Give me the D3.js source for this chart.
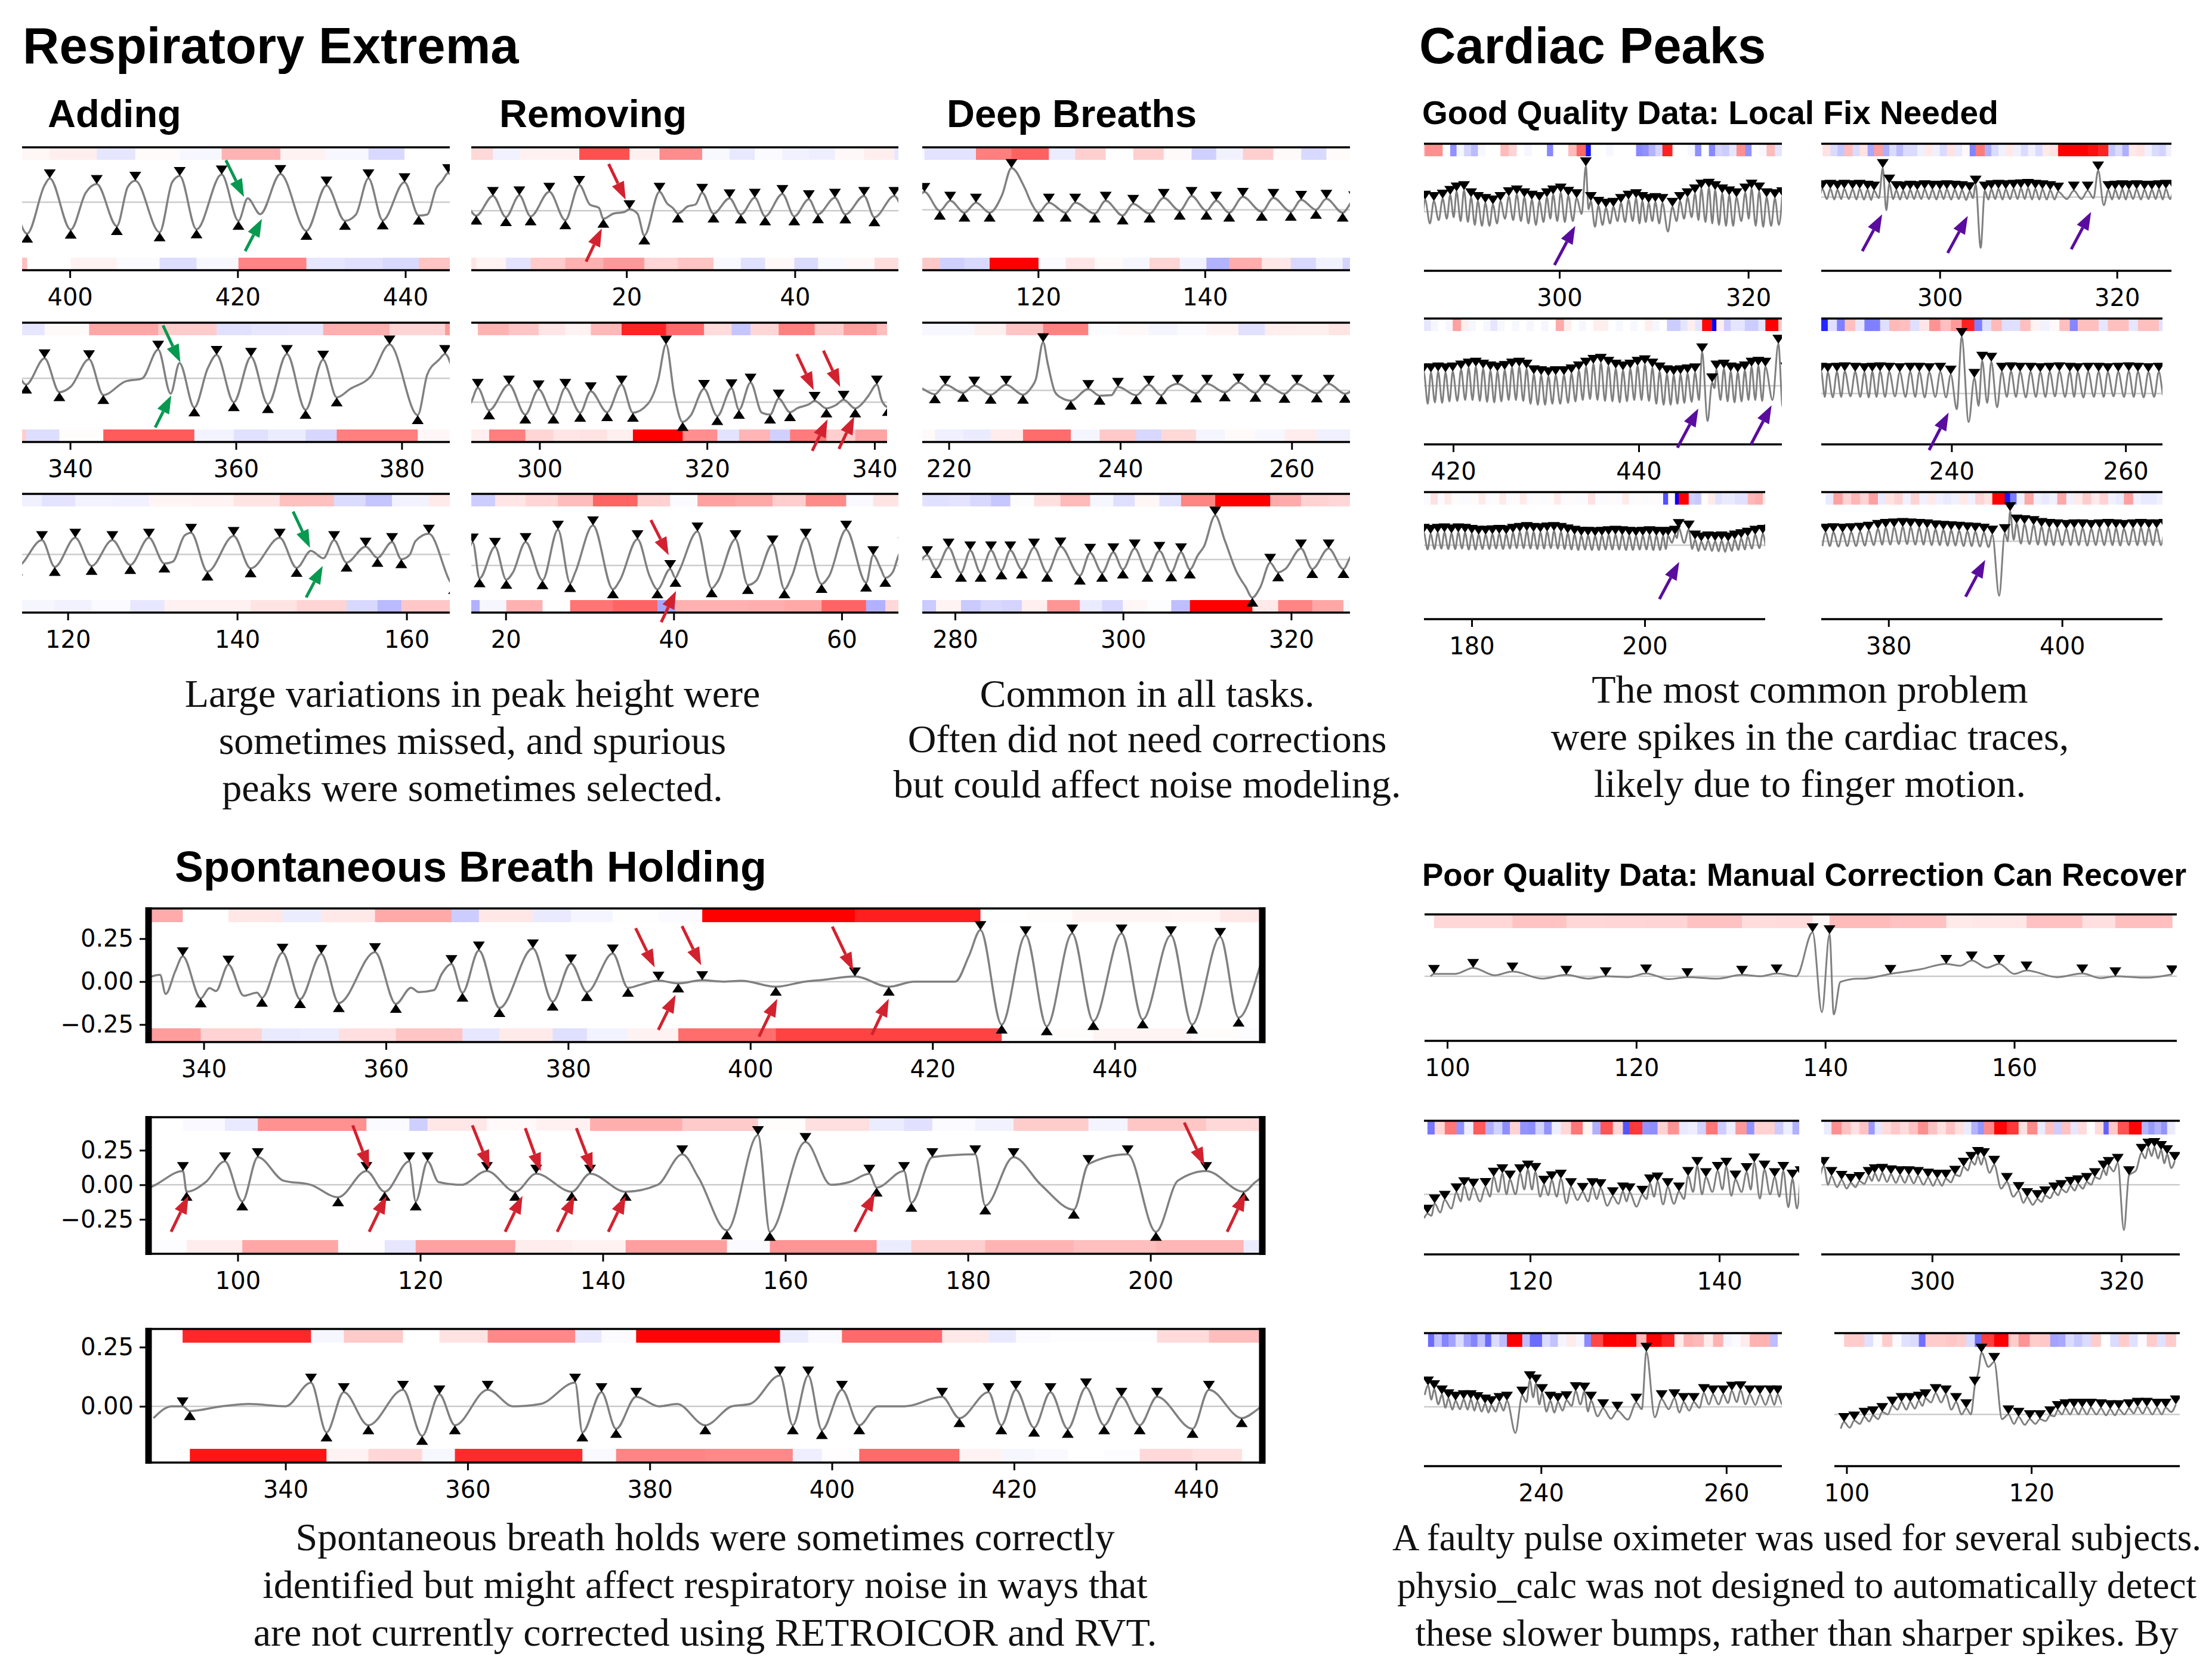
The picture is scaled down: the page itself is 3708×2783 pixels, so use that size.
<!DOCTYPE html>
<html>
<head>
<meta charset="utf-8">
<script src="https://cdn.jsdelivr.net/npm/d3@7"></script>
<style>
  body { margin: 0; background: #fff; }
</style>
</head>
<body>
<script>
// ---------- data: [time (s), signal] ----------
// Respiratory extrema: peaks (marked v), troughs (marked ^), unmarked knots of the trace
const addPk1 = [[392.2,0.45],[397.6,0.50],[403.2,0.38],[407.8,0.45],[413.1,0.55],[418.1,0.58],[425.1,0.59],[430.6,0.35],[435.6,0.50],[439.9,0.42],[445.1,0.61],[450.3,0.5]];
const addTr1 = [[388.2,-0.6],[394.9,-0.66],[400.1,-0.575],[405.6,-0.50],[410.7,-0.63],[415.1,-0.57],[420.1,-0.39],[428.2,-0.60],[432.8,-0.39],[437.3,-0.38],[441.6,-0.28],[448.2,-0.5]];
const addKn1 = [[397.0,0.36],[401.9,0.20],[406.9,0.32],[412.2,0.42],[421.2,0.08],[422.7,-0.25],[434.1,-0.26],[442.6,-0.26],[443.7,0.30],[444.4,0.45]];
const addAr1 = [[418.6,0.88,420.76,0.11],[420.9,-1.025,422.9,-0.35]];

const addPk2 = [[332.6,0.4],[336.91,0.42],[342.28,0.40],[350.62,0.60],[357.67,0.49],[361.82,0.45],[366.15,0.51],[370.52,0.39],[378.53,0.71],[385.23,0.51],[394,0.5]];
const addTr2 = [[327.7,-0.3],[334.69,-0.13],[338.70,-0.29],[344.0,-0.35],[354.98,-0.61],[359.74,-0.50],[363.86,-0.54],[368.4,-0.66],[372.16,-0.40],[381.93,-0.77],[387.4,-0.4]];
const addKn2 = [[340.1,-0.17],[346.6,-0.07],[348.7,0.0],[352.12,-0.32],[353.19,0.32],[356.6,0.21],[373.8,-0.22],[376.3,0.05],[383.1,0.09],[384.5,0.39]];
const addAr2 = [[351.2,1.11,353.3,0.335],[350.26,-1.03,352.2,-0.36]];

const addPk3 = [[112.65,0.3],[116.95,0.30],[120.88,0.35],[125.26,0.30],[129.58,0.35],[134.56,0.455],[139.58,0.39],[145.02,0.35],[151.44,0.30],[155.16,0.165],[158.28,0.26],[162.63,0.435],[167.9,0.4]];
const addTr3 = [[114.0,-0.25],[118.46,-0.26],[122.81,-0.24],[127.37,-0.22],[131.40,-0.19],[136.49,-0.36],[141.58,-0.29],[147.02,-0.28],[152.91,-0.17],[156.56,-0.07],[159.37,-0.10],[165.6,-0.64]];
const addKn3 = [[132.4,-0.15],[133.8,0.40],[148.70,0.075],[150.17,-0.08],[160.35,-0.01],[161.05,0.28]];
const addAr3 = [[146.6,0.90,148.6,0.14],[148.14,-0.90,150.1,-0.24]];

const remPk1 = [[0.2,0.3],[4.13,0.31],[7.27,0.32],[10.83,0.395],[14.39,0.54],[20.35,0.03],[23.92,0.395],[28.99,0.375],[32.24,0.26],[35.24,0.27],[38.52,0.35],[41.66,0.24],[44.76,0.27],[48.22,0.31],[51.82,0.31],[54.8,0.3]];
const remTr1 = [[-1.6,-0.1],[2.15,-0.105],[5.68,-0.135],[8.61,-0.12],[12.73,-0.20],[17.25,-0.17],[22.12,-0.52],[26.10,-0.06],[30.33,-0.06],[33.58,-0.08],[36.47,-0.12],[39.93,-0.12],[42.75,-0.075],[46.0,-0.08],[49.45,-0.14],[53.3,-0.1]];
const remKn1 = [[15.66,0.125],[16.72,0.06],[18.48,-0.06],[19.72,-0.03],[21.3,-0.06],[24.83,0.15],[25.54,0.05],[27.3,0.09],[28.2,0.13]];
const remAr1 = [[17.88,0.98,19.9,0.23],[15.2,-1.07,17.07,-0.375]];

const remPk2 = [[289.7,0.3],[292.63,0.30],[296.35,0.37],[299.89,0.27],[303.08,0.30],[306.12,0.23],[309.8,0.37],[315.11,1.21],[319.64,0.28],[322.93,0.29],[325.2,0.41],[328.56,0.076],[332.85,0.03],[336.31,0.05],[340.28,0.37],[343.9,0.3]];
const remTr2 = [[290.9,-0.2],[293.98,-0.17],[298.30,-0.26],[301.66,-0.26],[304.85,-0.22],[308.07,-0.21],[311.15,-0.22],[317.09,-0.415],[321.23,-0.29],[323.82,-0.16],[327.53,-0.26],[329.91,-0.21],[334.26,-0.13],[337.7,-0.13],[341.6,-0.1]];
const remKn2 = [[291.85,0.005],[312.92,-0.04],[314.15,0.455],[316.1,0.14],[318.05,-0.28],[326.54,-0.22],[330.79,-0.125],[332.21,-0.04],[335.4,-0.06],[338.58,-0.02],[339.29,0.14],[340.88,0.03]];
const remAr2 = [[330.72,1.01,332.74,0.255],[333.9,1.08,335.9,0.32],[332.56,-1.02,334.4,-0.36],[335.75,-0.98,337.59,-0.30]];

const remPk3 = [[13.4,0.4],[16.08,0.48],[18.73,0.39],[22.37,0.49],[26.22,0.75],[30.39,0.84],[35.69,0.55],[39.58,-0.075],[42.83,0.71],[47.35,0.55],[51.77,0.44],[55.72,0.58],[60.53,0.75],[63.75,0.215],[67.4,0.4]];
const remTr3 = [[14.6,-0.3],[16.89,-0.27],[20.07,-0.30],[24.38,-0.31],[27.67,-0.37],[32.76,-0.50],[38.06,-0.50],[40.21,-0.26],[44.52,-0.48],[48.83,-0.41],[53.18,-0.50],[57.6,-0.39],[62.9,-0.36],[65.19,-0.26],[69,-0.3]];
const remKn3 = [[20.85,-0.15],[28.27,-0.15],[33.57,-0.32],[37.1,-0.21],[40.64,-0.12],[45.23,-0.34],[49.82,-0.32],[54.06,-0.23],[58.48,-0.23],[64.66,-0.075],[66.08,-0.14],[66.78,0.215]];
const remAr3 = [[37.28,0.95,39.40,0.215],[38.51,-1.19,40.28,-0.535]];

const deepPk1 = [[103.1,0.3],[106.36,0.375],[109.45,0.19],[112.54,0.15],[116.8,0.875],[121.28,0.15],[124.44,0.15],[128.1,0.19],[131.4,0.125],[135.06,0.25],[138.4,0.29],[141.35,0.19],[144.55,0.27],[148.21,0.25],[151.55,0.21],[154.57,0.23],[157.9,0.2]];
const deepTr1 = [[104.5,-0.05],[108.21,-0.02],[111.16,-0.06],[114.18,-0.06],[120.04,-0.06],[123.3,-0.06],[126.79,-0.08],[130.13,-0.12],[133.36,-0.08],[136.98,-0.02],[140.18,-0.02],[142.91,-0.06],[146.82,-0.04],[150.3,-0.04],[153.32,0.0],[156.52,-0.06],[159.5,-0.05]];
const deepKn1 = [[115.67,0.31],[118.33,0.48],[119.22,0.13]];

const deepPk2 = [[216.2,0.1],[219.58,0.12],[222.97,0.10],[226.68,0.12],[231.0,1.01],[236.27,0.03],[239.73,0.075],[243.33,0.12],[246.69,0.14],[250.12,0.14],[253.79,0.165],[256.87,0.14],[260.61,0.14],[264.32,0.14],[268.2,0.12]];
const deepTr2 = [[214.8,-0.05],[218.37,-0.08],[221.66,-0.05],[224.88,-0.09],[228.65,-0.09],[234.23,-0.215],[237.59,-0.11],[241.85,-0.10],[244.79,-0.10],[248.84,-0.06],[252.2,-0.04],[255.77,-0.05],[259.16,-0.07],[262.93,-0.06],[266.22,-0.07],[269.5,-0.06]];
const deepKn2 = [[216.98,0.03],[229.62,0.06],[230.14,0.23],[231.53,0.57],[232.39,-0.035],[233.09,-0.15],[238.97,-0.1],[245.55,0.05]];

const deepPk3 = [[274.1,0.1],[276.68,0.09],[279.23,0.25],[281.81,0.19],[284.28,0.19],[286.58,0.19],[289.4,0.25],[292.55,0.27],[296.08,0.14],[298.84,0.15],[301.38,0.23],[304.32,0.18],[306.9,0.15],[310.96,0.92],[317.5,-0.07],[321.17,0.23],[324.46,0.23],[327.7,0.2]];
const deepTr3 = [[275.4,-0.2],[277.74,-0.2],[280.71,-0.28],[283.04,-0.28],[285.52,-0.23],[287.95,-0.21],[290.96,-0.28],[294.85,-0.34],[297.5,-0.28],[299.97,-0.21],[302.9,-0.28],[305.73,-0.27],[307.95,-0.21],[315.38,-0.80],[318.45,-0.27],[322.51,-0.2],[326.22,-0.2],[329,-0.2]];
const deepKn3 = [[276.22,0.04],[308.9,0.09],[309.62,0.27],[312.1,0.40],[313.5,-0.26],[314.6,-0.58],[316.33,-0.58],[319.3,-0.2],[327.04,0.05]];

// Spontaneous breath holding
const holdPk1 = [[329.4,0.1],[337.7,0.147],[342.71,0.099],[348.65,0.168],[352.91,0.161],[358.8,0.172],[367.19,0.102],[370.2,0.181],[376.13,0.193],[380.31,0.106],[384.9,0.164],[389.92,0.006],[394.72,0.008],[411.48,0.03],[425.26,0.30],[430.22,0.27],[435.33,0.28],[440.75,0.28],[446.17,0.27],[451.58,0.26],[457.5,0.25]];
const holdTr1 = [[330.8,-0.05],[339.67,-0.098],[346.39,-0.094],[350.57,-0.102],[354.83,-0.125],[361.09,-0.13],[368.4,-0.065],[372.46,-0.154],[378.3,-0.117],[382.06,-0.061],[386.57,-0.036],[392.09,-0.011],[402.8,-0.03],[415.2,-0.03],[427.59,-0.25],[432.54,-0.26],[437.65,-0.23],[443.07,-0.22],[448.49,-0.25],[453.6,-0.21],[458.5,-0.2]];
const holdKn1 = [[335.2,0.04],[335.82,-0.072],[336.87,0.06],[340.63,-0.038],[341.34,-0.055],[344.39,-0.082],[345.85,-0.065],[362.76,-0.036],[363.6,-0.061],[365.27,-0.05],[366.11,0.043],[387.83,-0.02],[397.0,0.0],[399,0.005],[406,0.0],[408,0.01],[418,0.0],[422.5,0.0],[424.0,0.15]];
const holdAr1 = [[387.41,0.311,389.5,0.083],[392.5,0.323,394.6,0.095],[409.0,0.32,411.3,0.065],[389.9,-0.281,391.8,-0.078],[400.95,-0.32,402.96,-0.10],[413.34,-0.31,415.2,-0.10]];

const holdPk2 = [[94.0,0.1],[98.6,0.17],[102.2,0.20],[114.1,0.10],[118.8,0.17],[120.8,0.17],[127.3,0.10],[132.7,0.08],[138.6,0.08],[148.7,0.22],[157.0,0.36],[162.2,0.31],[169.2,0.08],[173.0,0.10],[176.1,0.20],[180.8,0.22],[185.0,0.20],[193.2,0.15],[197.5,0.22],[206.1,0.10],[213.5,0.1]];
const holdTr2 = [[89.5,-0.05],[94.4,-0.05],[100.5,-0.12],[111.0,-0.09],[116.1,-0.05],[119.5,-0.12],[130.4,-0.05],[136.6,-0.05],[142.5,-0.05],[153.6,-0.33],[158.3,-0.34],[170.0,-0.02],[173.8,-0.13],[181.9,-0.15],[191.6,-0.18],[200.6,-0.34],[210.2,-0.05],[214,-0.05]];
const holdKn2 = [[91,0.0],[96.5,0.02],[105,0.03],[108,0.0],[122,0.02],[124.5,0.0],[146,0.0],[150.5,0.05],[165,0.0],[167,0.02],[188,0.0],[203,0.03],[211.5,0.02]];
const holdAr2 = [[112.6,0.43,114.4,0.12],[125.7,0.43,127.6,0.12],[131.5,0.41,133.2,0.10],[137.1,0.41,138.9,0.10],[203.7,0.45,205.9,0.14],
  [92.7,-0.34,94.6,-0.08],[114.4,-0.34,116.3,-0.08],[129.3,-0.34,131.2,-0.08],[135.0,-0.34,136.9,-0.08],[140.6,-0.34,142.5,-0.08],[167.6,-0.34,169.8,-0.06],[208.4,-0.34,210.4,-0.06]];

const holdPk3 = [[328.7,0.0],[342.8,0.10],[346.4,0.06],[352.9,0.07],[356.9,0.05],[362.2,0.07],[371.8,0.10],[374.7,0.06],[378.5,0.04],[394.3,0.13],[397.4,0.13],[401.1,0.07],[412.1,0.04],[417.2,0.06],[420.2,0.07],[424.0,0.06],[427.9,0.08],[431.8,0.04],[435.7,0.04],[441.4,0.07],[448.5,0.05]];
const holdTr3 = [[329.5,-0.02],[344.5,-0.11],[349.1,-0.08],[355.0,-0.125],[358.6,-0.08],[372.6,-0.11],[376.3,-0.095],[386.1,-0.08],[395.7,-0.08],[398.9,-0.10],[403.0,-0.08],[414.0,-0.05],[418.6,-0.08],[422.2,-0.09],[425.9,-0.095],[429.9,-0.08],[433.8,-0.08],[439.6,-0.095],[445.0,-0.05]];
const holdKn3 = [[325.5,-0.05],[327.5,0.0],[333,0.0],[336,0.01],[340,0.0],[365,0.0],[368,0.01],[381,0.0],[383,0.01],[389,0.0],[391,0.01],[405,0.0],[408,0.0],[446.5,-0.02]];

// Cardiac beats: [peak time, peak value, preceding trough value]
const goodA1 = [[284.9,.30,-.20],[285.78,.25,-.22],[286.71,.22,-.25],[287.64,.27,-.18],[288.44,.35,-.15],[289.11,.42,-.12],[289.9,.45,-.20],[290.65,.30,-.22],[291.37,.22,-.28],[292.16,.18,-.30],[292.96,.15,-.30],[293.76,.22,-.25],[294.64,.32,-.15],[295.49,.36,-.18],[296.29,.30,-.20],[297.08,.25,-.25],[297.88,.22,-.28],[298.68,.30,-.22],[299.34,.36,-.15],[300.14,.40,-.20],[300.94,.33,-.22],[301.82,.28,-.20],[302.8,.95,-.05],[303.33,.22,.05],[304.13,.12,-.32],[304.93,.08,-.28],[305.72,.10,-.25],[306.52,.18,-.20],[307.32,.25,-.22],[308.12,.28,-.20],[308.78,.22,-.25],[309.45,.18,-.22],[310.16,.20,-.20],[310.91,.18,-.25],[311.97,.10,-.42],[312.77,.22,-.20],[313.57,.30,-.15],[314.36,.38,-.12],[315.03,.48,-.18],[315.83,.50,-.22],[316.49,.45,-.25],[317.24,.38,-.28],[317.98,.34,-.30],[318.75,.30,-.30],[319.68,.40,-.20],[320.35,.48,-.15],[321.15,.42,-.30],[321.94,.30,-.32],[322.82,.28,-.30],[323.59,.32,-.28]];
const goodA2 = [[416.84,.28,-.35],[417.6,.28,-.38],[418.38,.30,-.35],[419.17,.28,-.36],[419.95,.30,-.33],[420.85,.34,-.32],[421.66,.38,-.30],[422.44,.40,-.30],[423.23,.36,-.32],[424.01,.32,-.34],[424.77,.30,-.35],[425.55,.33,-.33],[426.34,.38,-.30],[427.12,.40,-.30],[427.91,.36,-.32],[428.69,.24,-.38],[429.48,.22,-.40],[430.26,.20,-.40],[431.05,.22,-.38],[431.94,.22,-.38],[432.75,.26,-.36],[433.54,.32,-.33],[434.32,.40,-.30],[435.11,.46,-.28],[435.92,.48,-.30],[436.73,.42,-.32],[437.52,.36,-.33],[438.3,.32,-.35],[439.09,.36,-.33],[439.87,.42,-.30],[440.66,.45,-.30],[441.47,.38,-.32],[442.25,.30,-.38],[443.04,.24,-.40],[443.77,.22,-.40],[444.5,.24,-.38],[445.26,.26,-.36],[446.07,.28,-.34],[446.83,.70,-.30],[447.91,.07,-.74],[448.37,.34,-.05],[449.18,.36,-.30],[449.91,.30,-.33],[450.67,.28,-.35],[451.43,.32,-.33],[452.16,.40,-.30],[452.89,.42,-.30],[453.65,.40,-.32],[455.05,.88,-.30],[455.9,.30,-.45]];
const goodA3 = [[174.47,.26,-.08],[175.25,.24,-.09],[176.07,.26,-.08],[176.85,.27,-.07],[177.66,.25,-.08],[178.45,.27,-.08],[179.23,.26,-.07],[180.01,.24,-.09],[180.8,.22,-.09],[181.61,.22,-.08],[182.39,.23,-.08],[183.18,.24,-.07],[183.99,.23,-.08],[184.77,.26,-.07],[185.56,.28,-.06],[186.37,.30,-.06],[187.15,.28,-.07],[187.94,.27,-.08],[188.72,.29,-.07],[189.51,.30,-.06],[190.32,.28,-.07],[191.1,.25,-.08],[191.89,.22,-.09],[192.67,.20,-.10],[193.45,.20,-.09],[194.27,.19,-.10],[195.05,.20,-.10],[195.83,.21,-.09],[196.62,.22,-.09],[197.4,.21,-.09],[198.21,.20,-.10],[198.99,.19,-.10],[199.78,.20,-.09],[200.56,.21,-.09],[201.35,.20,-.10],[202.13,.19,-.10],[202.71,.20,-.08],[203.5,.22,.05],[203.93,.36,.15],[205.09,.33,.05],[205.82,.12,-.08],[206.54,.08,-.12],[207.33,.10,-.10],[208.14,.09,-.12],[208.89,.10,-.13],[209.65,.08,-.14],[210.41,.12,-.12],[211.16,.15,-.10],[211.91,.18,-.09],[212.78,.22,-.07],[213.66,.24,-.06],[214.47,.25,-.06]];
const goodB1 = [[286.76,.17,-.05],[287.65,.18,-.04],[288.45,.16,-.05],[289.22,.18,-.04],[290.16,.17,-.04],[290.96,.18,-.05],[291.85,.16,-.05],[292.58,.14,-.06],[293.56,.62,-.02],[294.3,.29,-.28],[295.1,.15,-.04],[295.86,.14,-.05],[296.66,.16,-.04],[297.46,.15,-.04],[298.29,.17,-.04],[299.17,.16,-.04],[300.0,.16,-.05],[300.8,.17,-.04],[301.69,.16,-.05],[302.51,.15,-.04],[303.37,.13,-.06],[304.05,.27,-.02],[305.08,.14,-1.08],[305.82,.17,-.05],[306.62,.18,-.04],[307.45,.17,-.05],[308.33,.18,-.04],[309.16,.19,-.04],[309.96,.20,-.04],[310.79,.18,-.05],[311.59,.17,-.05],[312.47,.15,-.05],[313.36,.12,-.05],[315.13,.14,-.04],[316.7,.14,-.04],[317.88,.57,-.02],[319.03,.15,-.17],[319.8,.16,-.05],[320.6,.17,-.04],[321.34,.16,-.05],[322.22,.17,-.04],[323.11,.16,-.05],[323.94,.16,-.04],[324.74,.17,-.04],[325.53,.18,-.05],[326.36,.17,-.04]];
const goodB2 = [[225.02,.46,-.07],[225.78,.45,-.07],[226.83,.46,-.08],[227.73,.47,-.07],[228.93,.46,-.06],[229.99,.45,-.07],[230.89,.46,-.08],[231.79,.47,-.07],[232.84,.46,-.07],[234.05,.45,-.06],[235.25,.46,-.07],[236.3,.46,-.07],[237.44,.45,-.08],[238.71,.46,-.07],[239.91,.40,-.08],[241.17,1.19,-.33],[242.62,.33,-.60],[243.52,.69,-.26],[244.57,.67,-.20],[245.78,.46,-.29],[246.83,.47,-.07],[247.88,.46,-.07],[249.08,.46,-.08],[250.2,.45,-.07],[251.28,.46,-.07],[252.39,.47,-.06],[253.59,.46,-.07],[254.5,.45,-.07],[255.7,.46,-.08],[256.9,.46,-.07],[257.96,.45,-.07],[259.16,.46,-.06],[260.36,.47,-.07],[261.42,.46,-.07],[262.62,.45,-.08],[263.82,.46,-.07],[264.87,.46,-.07]];
const goodB3 = [[372.75,.18,-.10],[373.65,.19,-.10],[374.71,.18,-.11],[375.7,.19,-.10],[376.73,.20,-.10],[377.72,.22,-.09],[378.78,.26,-.08],[379.68,.28,-.07],[380.65,.29,-.07],[381.64,.30,-.06],[382.55,.29,-.06],[383.54,.28,-.07],[384.45,.27,-.07],[385.41,.25,-.08],[386.32,.24,-.08],[387.22,.23,-.09],[388.13,.22,-.09],[389.09,.21,-.10],[390.0,.20,-.10],[390.99,.18,-.11],[391.96,.14,-.12],[393.4,.17,-1.14],[394.01,.63,.0],[394.76,.37,.03],[395.67,.36,-.05],[396.72,.34,-.06],[397.63,.30,-.07],[398.53,.28,-.08],[399.44,.27,-.08],[400.49,.26,-.08],[401.4,.27,-.08],[402.36,.27,-.08],[403.36,.26,-.09],[404.32,.27,-.08],[405.31,.28,-.08],[406.22,.27,-.08],[407.12,.26,-.09],[408.18,.27,-.08],[409.09,.28,-.08],[409.99,.27,-.08],[410.89,.27,-.08],[411.8,.28,-.08]];

const poorA = [[98.6,0.05,0.0],[102.74,0.175,0.05],[106.9,0.10,0.02],[112.6,0.03,-0.05],[116.77,0.0,-0.05],[121.04,0.06,-0.02],[125.41,-0.02,-0.06],[131.19,0.03,-0.05],[134.85,0.06,0.0],[138.66,0.92,0.0],[140.45,0.88,-0.75],[146.9,0.05,-0.05],[152.8,0.26,0.15],[155.5,0.33,0.22],[158.4,0.26,0.18],[161.3,0.12,0.05],[167.2,0.06,-0.02],[170.7,0.0,-0.04],[176.7,0.04,-0.03]];
const poorAKn = [[140.9,-0.8],[141.6,-0.12],[143.5,-0.05]];
const poorB1 = [[109.14,-0.405,-0.5],[109.9,-0.19,-0.45],[110.97,-0.115,-0.38],[112.21,0.04,-0.3],[113.02,0.17,-0.15],[113.99,0.14,-0.12],[115.28,0.155,-0.15],[116.14,0.37,-0.05],[117.06,0.44,0.05],[117.86,0.31,0.0],[118.94,0.44,0.0],[119.75,0.52,0.1],[120.55,0.47,0.1],[121.47,0.2,-0.05],[122.28,0.295,-0.02],[123.25,0.33,-0.05],[124.32,0.15,-0.19],[125.56,0.05,-0.12],[126.58,0.15,-0.15],[127.44,0.13,-0.1],[128.74,-0.04,-0.24],[129.81,0.06,-0.2],[130.51,0.04,-0.15],[131.86,-0.01,-0.26],[132.67,0.23,-0.1],[133.47,0.27,-0.05],[134.55,0.15,-0.21],[135.74,0.06,-0.2],[136.7,0.385,-0.1],[137.67,0.595,0.05],[138.59,0.36,0.0],[139.83,0.49,0.05],[140.74,0.58,0.1],[141.71,0.31,-0.03],[142.89,0.465,0.05],[143.7,0.67,0.1],[144.78,0.52,-0.09],[145.86,0.36,0.0],[146.77,0.49,-0.05],[147.74,0.33,-0.27],[148.6,0.4,-0.3]];
const poorB2 = [[288.55,0.395,0.2],[289.36,0.185,0.0],[290.43,0.105,-0.05],[291.4,0.04,-0.08],[292.31,0.08,-0.05],[293.28,0.185,0.02],[293.93,0.24,0.08],[294.73,0.25,0.08],[295.65,0.22,0.06],[296.61,0.2,0.04],[297.53,0.2,0.04],[298.5,0.185,0.03],[299.57,0.15,0.0],[300.54,0.13,-0.02],[301.45,0.13,-0.02],[302.42,0.21,0.05],[303.33,0.38,0.18],[304.14,0.5,0.3],[304.84,0.605,0.42],[305.48,0.58,0.42],[306.56,0.42,0.25],[307.9,0.06,-0.08],[309.14,-0.13,-0.25],[310.05,-0.26,-0.38],[311.13,-0.3,-0.42],[311.94,-0.22,-0.36],[312.91,-0.14,-0.28],[313.66,-0.09,-0.22],[314.63,-0.02,-0.16],[315.43,0.01,-0.12],[316.35,0.06,-0.08],[317.2,0.16,0.0],[318.12,0.32,0.12],[318.66,0.395,0.2],[319.62,0.46,0.28],[320.81,0.2,-0.95],[322.15,0.67,0.3],[322.85,0.78,0.55],[323.5,0.79,0.6],[324.2,0.73,0.55],[324.84,0.64,0.45],[325.65,0.5,0.35]];
const poorC1 = [[227.8,0.45,0.25],[228.46,0.37,0.15],[229.29,0.26,0.05],[230.0,0.18,-0.02],[230.77,0.13,-0.06],[231.65,0.16,-0.05],[232.42,0.16,-0.06],[233.13,0.12,-0.08],[233.96,0.07,-0.1],[234.62,0.035,-0.12],[235.5,0.10,-0.1],[236.32,0.13,-0.08],[237.97,0.235,-0.55],[238.79,0.56,0.1],[239.45,0.49,0.2],[240.11,0.29,0.05],[240.99,0.13,-0.1],[241.82,0.10,-0.12],[242.75,0.14,-0.08],[243.74,0.33,0.02],[244.67,0.32,0.05],[245.39,0.13,-0.1],[246.7,-0.03,-0.2],[248.24,-0.08,-0.25],[250.28,0.09,-0.27],[251.37,1.16,-0.05],[253.02,0.16,-0.22],[254.4,0.18,-0.05],[255.39,0.10,-0.12],[256.49,0.10,-0.08],[257.58,0.29,-0.02],[258.57,0.26,0.05],[259.67,0.26,0.05],[260.6,0.34,0.08],[261.54,0.35,0.1],[262.53,0.26,0.05],[263.63,0.26,0.04],[264.73,0.26,0.04],[265.55,0.26,0.04],[266.5,0.25,0.04]];
const poorC2 = [[99.73,-0.16,-0.3],[100.83,-0.13,-0.28],[101.93,-0.05,-0.2],[102.87,-0.02,-0.15],[103.86,0.05,-0.1],[104.96,0.185,0.0],[105.95,0.26,0.1],[106.89,0.26,0.1],[107.82,0.29,0.12],[108.54,0.34,0.18],[109.64,0.45,0.25],[110.74,0.42,0.25],[111.85,0.26,0.1],[112.95,0.13,0.0],[113.88,0.605,0.0],[114.6,1.30,0.9],[115.98,1.105,1.0],[117.52,0.0,-0.1],[118.62,-0.05,-0.2],[119.83,-0.10,-0.22],[120.93,-0.10,-0.2],[122.04,-0.02,-0.14],[122.86,0.09,-0.04],[123.69,0.13,0.0],[124.62,0.14,0.0],[125.51,0.14,0.0],[126.44,0.14,0.0],[127.54,0.13,0.0],[128.54,0.11,-0.02],[129.47,0.11,-0.02],[130.57,0.13,0.0],[131.51,0.16,0.02],[132.5,0.16,0.02],[133.6,0.14,0.0],[134.54,0.14,0.0],[135.64,0.21,0.05]];

// purple arrows on cardiac panels: [tail t, tail v, tip t, tip v]
const goodArA1 = [[299.48,-1.12,301.68,-0.30]];
const goodArA2 = [[444.17,-1.30,446.42,-0.48],[452.1,-1.23,454.32,-0.41]];
const goodArA3 = [[201.70,-1.13,203.99,-0.35]];
const goodArB1 = [[291.25,-1.15,293.5,-0.365],[300.89,-1.19,303.16,-0.40],[314.84,-1.11,317.08,-0.315]];
const goodArB2 = [[237.42,-1.19,239.67,-0.40]];
const goodArB3 = [[388.88,-1.16,391.14,-0.39]];

// tick labels
const ticksAdd = [[400,420,440],[340,360,380],[120,140,160]];
const ticksRem = [[20,40],[300,320,340],[20,40,60]];
const ticksDeep = [[120,140],[220,240,260],[280,300,320]];
const ticksGoodA = [[300,320],[420,440],[180,200]];
const ticksGoodB = [[300,320],[240,260],[380,400]];
const ticksPoor = [[100,120,140,160],[120,140],[300,320],[240,260],[100,120]];
const ticksHold = [[340,360,380,400,420,440],[100,120,140,160,180,200],[340,360,380,400,420,440]];
const yTicksHold = [[0.25,0,-0.25],[0.25,0,-0.25],[0.25,0]];

// ---------- drawing ----------
const fig = d3.select('body').append('svg')
  .attr('width', 3708).attr('height', 2783)
  .style('display', 'block').style('background', '#fff');

const TRACE = '#808080';
const GREEN = '#07994f', RED = '#d2222f', PURPLE = '#5a0c9e';
const bwr = d3.scaleLinear().domain([-1, 0, 1]).range(['#0000ff', '#ffffff', '#ff0000']).clamp(true);
let clipCount = 0;

function beatsToTrace(beats) {
  const pts = [];
  beats.forEach((b, i) => {
    const prev = i ? beats[i - 1][0] : b[0] - 0.8;
    pts.push([b[0] - 0.45 * (b[0] - prev), b[2]]);
    pts.push([b[0], b[1]]);
  });
  return pts;
}

function arrow(g, x1, y1, x2, y2, color) {
  const a = Math.atan2(y2 - y1, x2 - x1);
  const L = 30, w = 11;
  const bx = x2 - L * Math.cos(a), by = y2 - L * Math.sin(a);
  g.append('line').attr('x1', x1).attr('y1', y1).attr('x2', bx).attr('y2', by)
    .attr('stroke', color).attr('stroke-width', 5);
  const px = -Math.sin(a) * w, py = Math.cos(a) * w;
  g.append('path').attr('d', `M${x2},${y2}L${bx + px},${by + py}L${bx - px},${by - py}Z`).attr('fill', color);
}

function drawPanel(p) {
  const x = d3.scaleLinear().domain(p.xd).range([p.l, p.r]);
  const y = d3.scaleLinear().domain(p.yd).range([p.b, p.t]);
  const cid = 'clip' + (clipCount++);
  fig.append('clipPath').attr('id', cid).append('rect')
    .attr('x', p.l).attr('y', p.t).attr('width', p.r - p.l).attr('height', p.b - p.t);
  const g = fig.append('g');
  const inner = g.append('g').attr('clip-path', `url(#${cid})`);

  let peaks = p.peaks, troughs = p.troughs || [], trace;
  if (p.beats) {
    peaks = p.beats.map(b => [b[0], b[1]]);
    trace = beatsToTrace(p.beats).concat(p.knots || []).sort((a, b) => a[0] - b[0]);
  } else {
    trace = peaks.concat(troughs, p.knots || []).sort((a, b) => a[0] - b[0]);
  }

  const hh = p.heatH || 20;
  const strip = (pts, y0) => inner.append('g').selectAll('rect')
    .data(d3.pairs(pts.map(d => d[0]).sort(d3.ascending)))
    .join('rect')
    .attr('x', d => x(d[0])).attr('width', d => x(d[1]) - x(d[0]) + 0.6)
    .attr('y', y0).attr('height', hh)
    .attr('fill', d => bwr((d[1] - d[0] - p.ref) / p.span));
  strip(peaks, p.t + 1);
  if (p.botHeat) strip(troughs, p.b - hh - 1);

  inner.append('line').attr('x1', p.l).attr('x2', p.r).attr('y1', y(0)).attr('y2', y(0))
    .attr('stroke', '#cccccc').attr('stroke-width', 2.5);

  inner.append('path').datum(trace)
    .attr('d', d3.line().x(d => x(d[0])).y(d => y(d[1])).curve(d3.curveMonotoneX))
    .attr('fill', 'none').attr('stroke', TRACE).attr('stroke-width', p.lw || 3.5)
    .attr('stroke-linejoin', 'round');

  inner.append('g').selectAll('path').data(peaks).join('path')
    .attr('d', 'M0,0L-10,-15L10,-15Z')
    .attr('transform', d => `translate(${x(d[0])},${y(d[1])})`);
  if (!p.beats) {
    inner.append('g').selectAll('path').data(troughs).join('path')
      .attr('d', 'M0,0L-10,15L10,15Z')
      .attr('transform', d => `translate(${x(d[0])},${y(d[1])})`);
  }

  // spines
  [p.t, p.b].forEach(yy => g.append('line').attr('x1', p.l).attr('x2', p.r).attr('y1', yy).attr('y2', yy)
    .attr('stroke', '#000').attr('stroke-width', 3.5));
  if (p.yTicks) {
    [p.l, p.r].forEach(xx => g.append('line').attr('x1', xx).attr('x2', xx).attr('y1', p.t - 2).attr('y2', p.b + 2)
      .attr('stroke', '#000').attr('stroke-width', 11));
    const ay = g.append('g').attr('transform', `translate(${p.l - 5},0)`)
      .call(d3.axisLeft(y).tickValues(p.yTicks).tickSize(10).tickPadding(10)
        .tickFormat(d => d3.format('.2f')(d).replace('-', '\u2212')));
    ay.select('.domain').remove();
    ay.selectAll('line').attr('stroke', '#000').attr('stroke-width', 3);
    ay.selectAll('text').attr('font-family', 'DejaVu Sans').attr('font-size', 40).attr('fill', '#000');
  }

  const ax = g.append('g').attr('transform', `translate(0,${p.b})`)
    .call(d3.axisBottom(x).tickValues(p.ticks).tickSize(13).tickPadding(18).tickFormat(d3.format('d')));
  ax.select('.domain').remove();
  ax.selectAll('line').attr('stroke', '#000').attr('stroke-width', 3);
  ax.selectAll('text').attr('font-family', 'DejaVu Sans').attr('font-size', 40).attr('fill', '#000');

  (p.arrows || []).forEach(a => arrow(g, x(a[0]), y(a[1]), x(a[2]), y(a[3]), p.arrowColor));
}

// respiratory grid
const respRows = [[247, 453], [541, 741], [828, 1027]];
const respCols = [[37, 754], [790, 1506], [1546, 2263]];
const respPanels = [
  { col: 0, row: 0, xd: [394.3, 445.3], yd: [-1.425, 1.15], peaks: addPk1, troughs: addTr1, knots: addKn1, arrows: addAr1, arrowColor: GREEN, ref: 5.2, span: 6, ticks: ticksAdd[0] },
  { col: 0, row: 1, xd: [334.2, 385.8], yd: [-1.334, 1.166], peaks: addPk2, troughs: addTr2, knots: addKn2, arrows: addAr2, arrowColor: GREEN, ref: 5.2, span: 9, ticks: ticksAdd[1] },
  { col: 0, row: 2, xd: [114.6, 165.1], yd: [-1.218, 1.27], peaks: addPk3, troughs: addTr3, knots: addKn3, arrows: addAr3, arrowColor: GREEN, ref: 4.7, span: 7, ticks: ticksAdd[2] },
  { col: 1, row: 0, xd: [1.56, 52.3], yd: [-1.25, 1.329], peaks: remPk1, troughs: remTr1, knots: remKn1, arrows: remAr1, arrowColor: RED, ref: 3.35, span: 3.8, ticks: ticksRem[0] },
  { col: 1, row: 1, xd: [291.85, 341.5], yd: [-0.834, 1.666], peaks: remPk2, troughs: remTr2, knots: remKn2, arrows: remAr2, arrowColor: RED, ref: 2.9, span: 2.8, ticks: ticksRem[1], r: 1487 },
  { col: 1, row: 2, xd: [15.9, 66.75], yd: [-0.989, 1.499], peaks: remPk3, troughs: remTr3, knots: remKn3, arrows: remAr3, arrowColor: RED, ref: 3.3, span: 3.3, ticks: ticksRem[2] },
  { col: 2, row: 0, xd: [106.1, 157.4], yd: [-1.266, 1.309], peaks: deepPk1, troughs: deepTr1, knots: deepKn1, ref: 3.3, span: 1.9, ticks: ticksDeep[0] },
  { col: 2, row: 1, xd: [216.9, 266.8], yd: [-1.08, 1.42], peaks: deepPk2, troughs: deepTr2, knots: deepKn2, ref: 3.5, span: 3.6, ticks: ticksDeep[1] },
  { col: 2, row: 2, xd: [276.1, 327.0], yd: [-1.114, 1.374], peaks: deepPk3, troughs: deepTr3, knots: deepKn3, ref: 2.85, span: 2.5, ticks: ticksDeep[2] }
];
respPanels.forEach(p => drawPanel(Object.assign({
  l: respCols[p.col][0], t: respRows[p.row][0], b: respRows[p.row][1], botHeat: true
}, p, { r: p.r || respCols[p.col][1] })));

// cardiac good quality
const cardRows = [[241, 454], [534, 745], [825, 1038]];
const cardPanels = [
  { l: 2387, r: 2987, row: 0, xd: [285.66, 323.56], yd: [-1.24, 1.42], beats: goodA1, arrows: goodArA1, ref: 0.8, span: 0.3, ticks: ticksGoodA[0] },
  { l: 2387, r: 2987, row: 1, xd: [416.85, 455.43], yd: [-1.23, 1.41], beats: goodA2, arrows: goodArA2, ref: 0.79, span: 0.3, ticks: ticksGoodA[1] },
  { l: 2387, r: 2959, row: 2, xd: [174.48, 213.93], yd: [-1.55, 1.115], beats: goodA3, arrows: goodArA3, ref: 0.785, span: 0.3, ticks: ticksGoodA[2] },
  { l: 3053, r: 3640, row: 0, xd: [286.62, 326.15], yd: [-1.57, 1.14], beats: goodB1, arrows: goodArB1, ref: 0.85, span: 0.35, ticks: ticksGoodB[0] },
  { l: 3053, r: 3625, row: 1, xd: [225.03, 264.24], yd: [-1.07, 1.58], beats: goodB2, arrows: goodArB2, ref: 1.1, span: 0.4, ticks: ticksGoodB[1] },
  { l: 3053, r: 3625, row: 2, xd: [372.25, 411.57], yd: [-1.63, 1.03], beats: goodB3, arrows: goodArB3, ref: 0.93, span: 0.35, ticks: ticksGoodB[2] }
];
cardPanels.forEach(p => drawPanel(Object.assign({ t: cardRows[p.row][0], b: cardRows[p.row][1], arrowColor: PURPLE, lw: 3 }, p)));

// cardiac poor quality
const poorPanels = [
  { l: 2388, r: 3649, t: 1533, b: 1745, xd: [97.6, 177.2], yd: [-1.354, 1.296], beats: poorA, knots: poorAKn, ref: 1.0, span: 20, ticks: ticksPoor[0] },
  { l: 2387, r: 3016, t: 1879, b: 2103, xd: [108.77, 148.45], yd: [-1.259, 1.541], beats: poorB1, ref: 1.0, span: 0.45, ticks: ticksPoor[1] },
  { l: 3053, r: 3654, t: 1879, b: 2103, xd: [288.28, 326.18], yd: [-1.459, 1.341], beats: poorB2, ref: 0.85, span: 0.5, ticks: ticksPoor[2] },
  { l: 2387, r: 2987, t: 2235, b: 2458, xd: [227.36, 266.0], yd: [-1.248, 1.551], beats: poorC1, ref: 0.95, span: 0.5, ticks: ticksPoor[3] },
  { l: 3075, r: 3654, t: 2235, b: 2458, xd: [98.68, 136.07], yd: [-1.089, 1.71], beats: poorC2, ref: 1.0, span: 0.5, ticks: ticksPoor[4] }
];
poorPanels.forEach(p => drawPanel(Object.assign({ heatH: 22, lw: 3 }, p)));

// spontaneous breath holding
const holdPanels = [
  { t: 1523, b: 1747, xd: [333.94, 456.2], yd: [-0.352, 0.426], peaks: holdPk1, troughs: holdTr1, knots: holdKn1, arrows: holdAr1, ref: 5.0, span: 10, ticks: ticksHold[0], yTicks: yTicksHold[0] },
  { t: 1873, b: 2102, xd: [90.23, 212.25], yd: [-0.499, 0.489], peaks: holdPk2, troughs: holdTr2, knots: holdKn2, arrows: holdAr2, ref: 5.0, span: 16, ticks: ticksHold[1], yTicks: yTicksHold[1] },
  { t: 2228, b: 2452, xd: [324.96, 447.26], yd: [-0.2375, 0.3267], peaks: holdPk3, troughs: holdTr3, knots: holdKn3, ref: 4.0, span: 12, ticks: ticksHold[2], yTicks: yTicksHold[2] }
];
holdPanels.forEach(p => drawPanel(Object.assign({ l: 249, r: 2116, botHeat: true, heatH: 22, arrowColor: RED }, p)));

// ---------- titles and captions ----------
const SANS = 'Liberation Sans, Arial, Helvetica, sans-serif';
const SERIF = 'Liberation Serif, Times New Roman, serif';
function title(txt, x, y, size) {
  fig.append('text').attr('x', x).attr('y', y).attr('font-family', SANS).attr('font-weight', 'bold')
    .attr('font-size', size).attr('fill', '#000').text(txt);
}
title('Respiratory Extrema', 38, 106, 85);
title('Cardiac Peaks', 2379, 106, 85);
title('Adding', 80, 213, 65);
title('Removing', 837, 213, 65);
title('Deep Breaths', 1587, 213, 65);
title('Good Quality Data: Local Fix Needed', 2384, 208, 55);
title('Poor Quality Data: Manual Correction Can Recover', 2384, 1485, 53);
title('Spontaneous Breath Holding', 293, 1478, 72);

function caption(lines, cx, y0, step, size) {
  lines.forEach((s, i) => fig.append('text').attr('x', cx).attr('y', y0 + i * step)
    .attr('text-anchor', 'middle').attr('font-family', SERIF).attr('font-size', size || 66).attr('fill', '#111').text(s));
}
caption(['Large variations in peak height were', 'sometimes missed, and spurious', 'peaks were sometimes selected.'], 792, 1185, 79);
caption(['Common in all tasks.', 'Often did not need corrections', 'but could affect noise modeling.'], 1923, 1185, 76);
caption(['The most common problem', 'were spikes in the cardiac traces,', 'likely due to finger motion.'], 3034, 1178, 79);
caption(['Spontaneous breath holds were sometimes correctly', 'identified but might affect respiratory noise in ways that', 'are not currently corrected using RETROICOR and RVT.'], 1182, 2599, 80);
caption(['A faulty pulse oximeter was used for several subjects.', 'physio_calc was not designed to automatically detect', 'these slower bumps, rather than sharper spikes. By'], 3012, 2599, 80, 63);
</script>
</body>
</html>
